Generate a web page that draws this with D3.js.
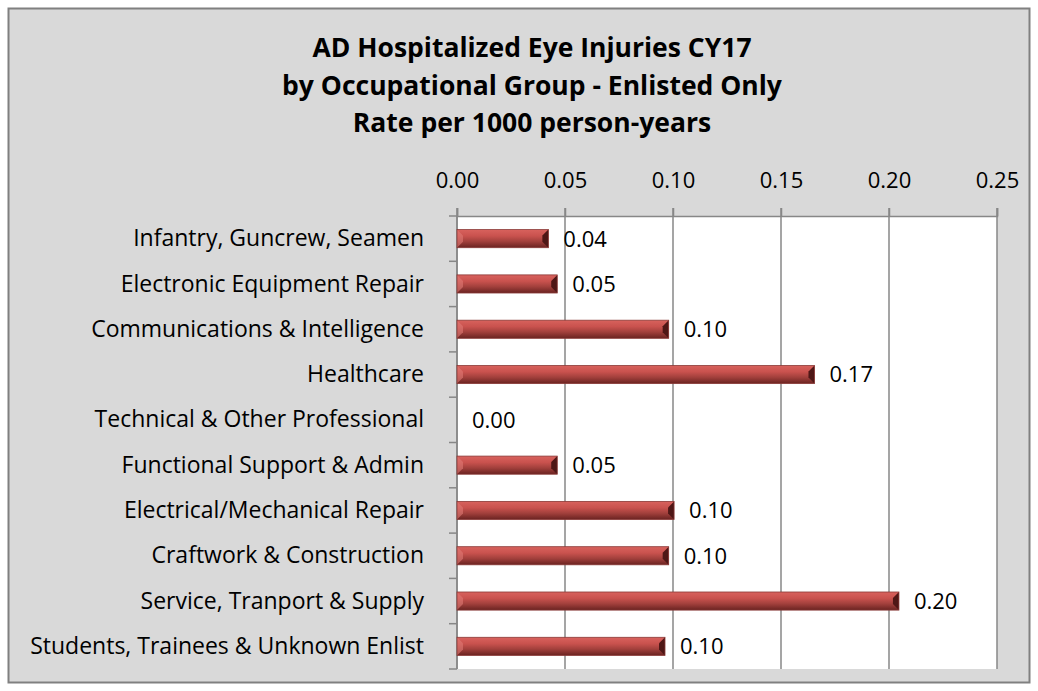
<!DOCTYPE html>
<html>
<head>
<meta charset="utf-8">
<script src="https://cdn.jsdelivr.net/npm/d3@7"></script>
<style>
  body { margin: 0; background: #fff; }
  svg text { font-family: "Open Sans", sans-serif; fill: #000; }
</style>
</head>
<body>
<script>
const width = 1038,
      height = 691;

const titleLines = [
    "AD Hospitalized Eye Injuries CY17",
    "by Occupational Group - Enlisted Only",
    "Rate per 1000 person-years"
];

const categories = [
    "Infantry, Guncrew, Seamen",
    "Electronic Equipment Repair",
    "Communications & Intelligence",
    "Healthcare",
    "Technical & Other Professional",
    "Functional Support & Admin",
    "Electrical/Mechanical Repair",
    "Craftwork & Construction",
    "Service, Tranport & Supply",
    "Students, Trainees & Unknown Enlist"
];

const rates = [0.0423, 0.0464, 0.098, 0.1655, 0.0, 0.0464, 0.1005, 0.098, 0.2046, 0.0963];

const xTicks = [0, 0.05, 0.10, 0.15, 0.20, 0.25];

const plot = {left: 457, right: 997, top: 216, bottom: 669};

const svg = d3.select("body").append("svg")
    .attr("width", width)
    .attr("height", height);

// chart area background and border
svg.append("rect")
    .attr("x", 8.5).attr("y", 8.5)
    .attr("width", 1021).attr("height", 674)
    .attr("fill", "#d9d9d9")
    .attr("stroke", "#808080")
    .attr("stroke-width", 2);

const defs = svg.append("defs");
const grad = defs.append("linearGradient")
    .attr("id", "barGrad")
    .attr("x1", 0).attr("y1", 0).attr("x2", 0).attr("y2", 1);
[["0%", "#d8625d"], ["35%", "#c9524e"], ["65%", "#a2403c"], ["100%", "#6a2321"]]
    .forEach(([o, c]) => grad.append("stop").attr("offset", o).attr("stop-color", c));

svg.selectAll(".title")
    .data(titleLines)
    .enter().append("text")
    .attr("class", "title")
    .attr("x", 532)
    .attr("y", (d, i) => 57 + i * 37.5)
    .attr("text-anchor", "middle")
    .style("font-weight", "bold")
    .style("font-size", "26.5px")
    .text(d => d);

const x = d3.scaleLinear()
    .domain([0, 0.25])
    .range([plot.left, plot.right]);

const y = d3.scaleBand()
    .domain(categories)
    .range([plot.top, plot.bottom])
    .paddingInner(0.6)
    .paddingOuter(0.3);

svg.append("rect")
    .attr("x", plot.left).attr("y", plot.top)
    .attr("width", plot.right - plot.left)
    .attr("height", plot.bottom - plot.top)
    .attr("fill", "#fff");

// vertical gridlines
svg.selectAll(".grid")
    .data(xTicks)
    .enter().append("line")
    .attr("class", "grid")
    .attr("x1", d => x(d)).attr("x2", d => x(d))
    .attr("y1", plot.top - 8).attr("y2", plot.bottom)
    .attr("stroke", "#878787")
    .attr("stroke-width", 1.5);

// top axis
const xAxis = svg.append("g")
    .attr("transform", `translate(0,${plot.top})`)
    .call(d3.axisTop(x).tickValues(xTicks).tickFormat(d3.format(".2f")).tickSize(8).tickPadding(20));
xAxis.select(".domain").attr("stroke", "#878787").attr("stroke-width", 1.5);
xAxis.selectAll(".tick line").attr("stroke", "#878787").attr("stroke-width", 1.5);
xAxis.selectAll("text")
    .attr("font-family", null)
    .attr("font-size", null)
    .style("font-size", "22px");

// left axis with ticks between categories
const step = (plot.bottom - plot.top) / categories.length;
const yAxisG = svg.append("g");
yAxisG.append("line")
    .attr("x1", plot.left).attr("x2", plot.left)
    .attr("y1", plot.top).attr("y2", plot.bottom)
    .attr("stroke", "#878787").attr("stroke-width", 1.5);
yAxisG.selectAll(".ytick")
    .data(d3.range(categories.length + 1))
    .enter().append("line")
    .attr("x1", plot.left - 8).attr("x2", plot.left)
    .attr("y1", i => plot.top + i * step).attr("y2", i => plot.top + i * step)
    .attr("stroke", "#878787").attr("stroke-width", 1.5);

svg.selectAll(".cat")
    .data(categories)
    .enter().append("text")
    .attr("class", "cat")
    .attr("x", 424)
    .attr("y", d => y(d) + y.bandwidth() / 2)
    .attr("dy", "0.33em")
    .attr("text-anchor", "end")
    .style("font-size", "23px")
    .text(d => d);

// bars with bevel ends
const bev = 6;
const bars = svg.selectAll(".bar")
    .data(rates.map((v, i) => ({v, c: categories[i]})).filter(d => d.v > 0))
    .enter().append("g")
    .attr("class", "bar");

bars.append("rect")
    .attr("x", x(0))
    .attr("y", d => y(d.c))
    .attr("width", d => x(d.v) - x(0))
    .attr("height", y.bandwidth())
    .attr("fill", "url(#barGrad)");

bars.append("path")
    .attr("d", d => {
        const x0 = x(0), y0 = y(d.c), y1 = y0 + y.bandwidth();
        return `M${x0},${y0}L${x0 + bev},${y0 + bev}L${x0 + bev},${y1 - bev}L${x0},${y1}Z`;
    })
    .attr("fill", "#e07a75").attr("opacity", 0.6);

bars.append("path")
    .attr("d", d => {
        const x1 = x(d.v), y0 = y(d.c), y1 = y0 + y.bandwidth();
        return `M${x1},${y0}L${x1 - bev},${y0 + bev}L${x1 - bev},${y1 - bev}L${x1},${y1}Z`;
    })
    .attr("fill", "#4e1716");

bars.append("rect")
    .attr("x", x(0))
    .attr("y", d => y(d.c))
    .attr("width", d => x(d.v) - x(0))
    .attr("height", y.bandwidth())
    .attr("fill", "none")
    .attr("stroke", "#8a3a37")
    .attr("stroke-width", 0.8);

svg.selectAll(".val")
    .data(rates)
    .enter().append("text")
    .attr("class", "val")
    .attr("x", d => x(d) + 15)
    .attr("y", (d, i) => y(categories[i]) + y.bandwidth() / 2)
    .attr("dy", "0.36em")
    .style("font-size", "22px")
    .text(d => d3.format(".2f")(d));
</script>
</body>
</html>
